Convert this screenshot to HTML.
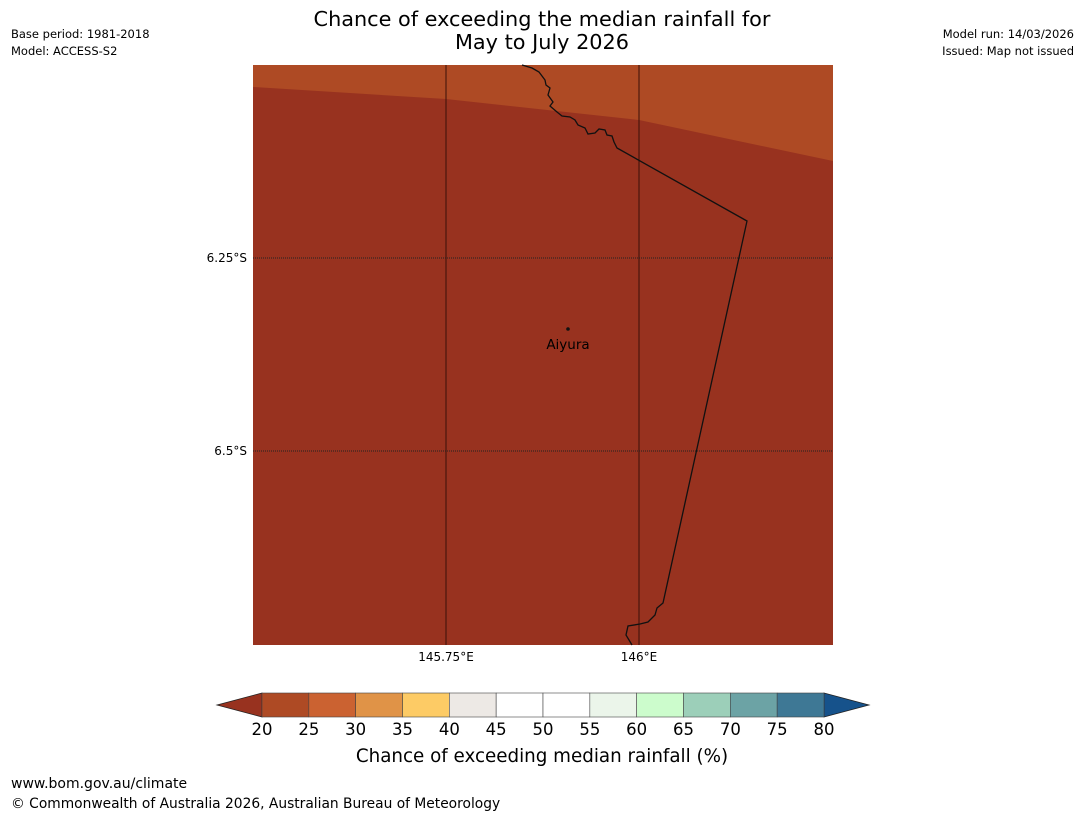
<!DOCTYPE html>
<html><head><meta charset="utf-8"><style>
body{margin:0;background:#fff;font-family:"DejaVu Sans","Liberation Sans",sans-serif;}
svg{display:block}
</style></head><body>
<svg width="1085" height="816" xmlns="http://www.w3.org/2000/svg" id="chart">
<text x="542" y="26" text-anchor="middle" font-size="20.8">Chance of exceeding the median rainfall for</text>
<text x="542" y="49" text-anchor="middle" font-size="20.8">May to July 2026</text>
<text x="11" y="38" font-size="11.5">Base period: 1981-2018</text>
<text x="11" y="55" font-size="11.5">Model: ACCESS-S2</text>
<text x="1074" y="38" font-size="11.5" text-anchor="end">Model run: 14/03/2026</text>
<text x="1074" y="55" font-size="11.5" text-anchor="end">Issued: Map not issued</text>
<g id="map">
<rect x="253" y="65" width="580" height="580" fill="#98321f"/>
<polygon points="253,65 833,65 833,161 639,120 446,99 253,87" fill="#ae4a24"/>
<line x1="446" y1="65" x2="446" y2="645" stroke="#3a1008" stroke-width="1"/>
<line x1="639" y1="65" x2="639" y2="645" stroke="#3a1008" stroke-width="1"/>
<line x1="253" y1="258" x2="833" y2="258" stroke="#222" stroke-width="1" stroke-dasharray="1,1"/>
<line x1="253" y1="451" x2="833" y2="451" stroke="#222" stroke-width="1" stroke-dasharray="1,1"/>
<polyline points="522,65 532,68 539,72 545,80 546,85 550,88 548,95 553,102 550,106 557,112 562,116 570,117 575,120 578,125 585,128 588,134 595,133 599,129 605,130 607,135 612,136 614,142 617,148 747,221 663,603 657,608 655,615 648,622 640,624 628,626 626,635 632,645" fill="none" stroke="#111" stroke-width="1.3"/>
<circle cx="568" cy="329" r="1.8" fill="#111"/>
<text x="568" y="349" text-anchor="middle" font-size="13.5">Aiyura</text>
</g>
<text x="247" y="262" text-anchor="end" font-size="12">6.25°S</text>
<text x="247" y="455" text-anchor="end" font-size="12">6.5°S</text>
<text x="446" y="661" text-anchor="middle" font-size="12">145.75°E</text>
<text x="639" y="661" text-anchor="middle" font-size="12">146°E</text>
<g id="cbar"></g>
<text x="542" y="762" text-anchor="middle" font-size="18.3">Chance of exceeding median rainfall (%)</text>
<text x="11" y="788" font-size="14">www.bom.gov.au/climate</text>
<text x="11" y="808" font-size="13.8">© Commonwealth of Australia 2026, Australian Bureau of Meteorology</text>
</svg>
<script>
const levels=[20,25,30,35,40,45,50,55,60,65,70,75,80];
const levelColors=["#ae4a24","#cb6231","#e09347","#fdcb65","#ede9e5","#ffffff","#ffffff","#ebf5ea","#ccfccc","#9ccfb9","#6ca3a5","#3e7895"];
const extColors=["#98321f","#16528b"];
const NS="http://www.w3.org/2000/svg";
const g=document.getElementById('cbar');
const x0=262,x1=824,y0=693,h=24;
const sx=v=>x0+(v-levels[0])/(levels[levels.length-1]-levels[0])*(x1-x0);
function mk(t,a){const e=document.createElementNS(NS,t);for(const k in a)e.setAttribute(k,a[k]);g.appendChild(e);return e;}
const l=mk('polygon',{points:`${x0},${y0} ${x0},${y0+h} 217,${y0+h/2}`,fill:extColors[0],stroke:'#222','stroke-width':0.8});


const r=mk('polygon',{points:`${x1},${y0} ${x1},${y0+h} 869,${y0+h/2}`,fill:extColors[1],stroke:'#222','stroke-width':0.8});


for(let i=0;i<levelColors.length;i++){
  const a=sx(levels[i]),b=sx(levels[i+1]);
  const rc=mk('rect',{x:a,y:y0,width:b-a,height:h,fill:levelColors[i],stroke:'#444','stroke-width':0.6});
  
  
}
for(const v of levels){
  const t=mk('text',{x:sx(v),y:735,'text-anchor':'middle','font-size':16.5});
  t.textContent=v;
  
  
}
</script>
</body></html>
